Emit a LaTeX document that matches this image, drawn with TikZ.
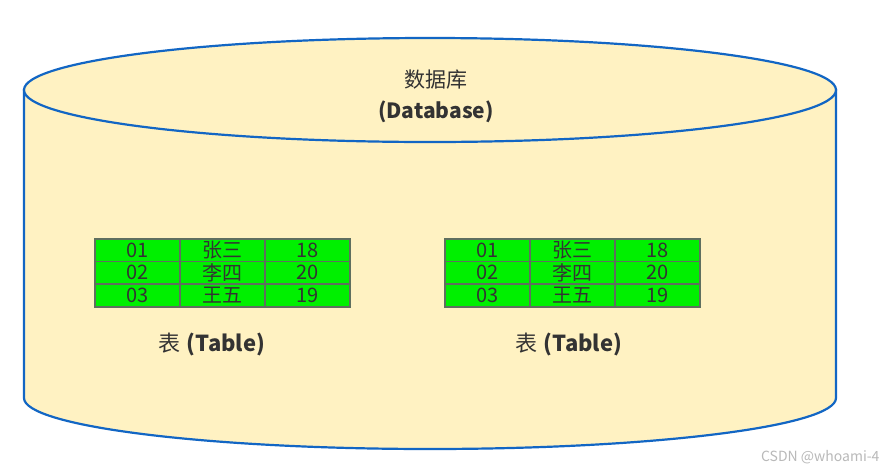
\documentclass[tikz,border=0pt]{standalone}
\usepackage{fontspec}
\setmainfont{Noto Sans CJK SC}
\begin{document}
\begin{tikzpicture}[x=1pt,y=-1pt,
  cell/.style={draw=gridgray, line width=1.6pt, fill=cellgreen, minimum width=85pt, minimum height=22.7pt, inner sep=0pt, text=textgray, font=\fontsize{20}{20}\selectfont, anchor=north west},
  lbl/.style={text=textgray, font=\fontsize{21}{31}\selectfont, align=center}]
\definecolor{cream}{HTML}{FFF2C2}
\definecolor{cylblue}{HTML}{1266C4}
\definecolor{cellgreen}{HTML}{00F000}
\definecolor{gridgray}{HTML}{5F6F5F}
\definecolor{textgray}{HTML}{333333}
\useasboundingbox (0,0) rectangle (887,472);
\fill[white] (0,0) rectangle (887,472);
% cylinder body
\filldraw[fill=cream, draw=cylblue, line width=2.2pt]
  (24,90) -- (24,398) arc[start angle=180, end angle=360, x radius=406pt, y radius=51pt] -- (836,90) -- cycle;
\filldraw[fill=cream, draw=cylblue, line width=2.2pt] (430,90) ellipse [x radius=406pt, y radius=52pt];
\node[lbl] (db) at (436,96) {数据库\\\textbf{(Database)}};
% table 1
\foreach \a/\b/\c [count=\i from 0] in {01/张三/18, 02/李四/20, 03/王五/19}{
  \node[cell] (ta\i a) at (94,238+\i*22.7) {\a};
  \node[cell] (ta\i b) at (179,238+\i*22.7) {\b};
  \node[cell] (ta\i c) at (264,238+\i*22.7) {\c};
}
\node[lbl, font=\fontsize{22}{24}\selectfont] (tl1) at (212,344) {表\hspace{6pt}\textbf{(Table)}};
% table 2
\foreach \a/\b/\c [count=\i from 0] in {01/张三/18, 02/李四/20, 03/王五/19}{
  \node[cell] (tb\i a) at (444,238+\i*22.7) {\a};
  \node[cell] (tb\i b) at (529,238+\i*22.7) {\b};
  \node[cell] (tb\i c) at (614,238+\i*22.7) {\c};
}
\node[lbl, font=\fontsize{22}{24}\selectfont] (tl2) at (569,344) {表\hspace{6pt}\textbf{(Table)}};
\node[text=gray!55, font=\fontsize{14}{14}\selectfont, anchor=east] (wm) at (883,457) {CSDN @whoami-4};
\end{tikzpicture}
\end{document}
